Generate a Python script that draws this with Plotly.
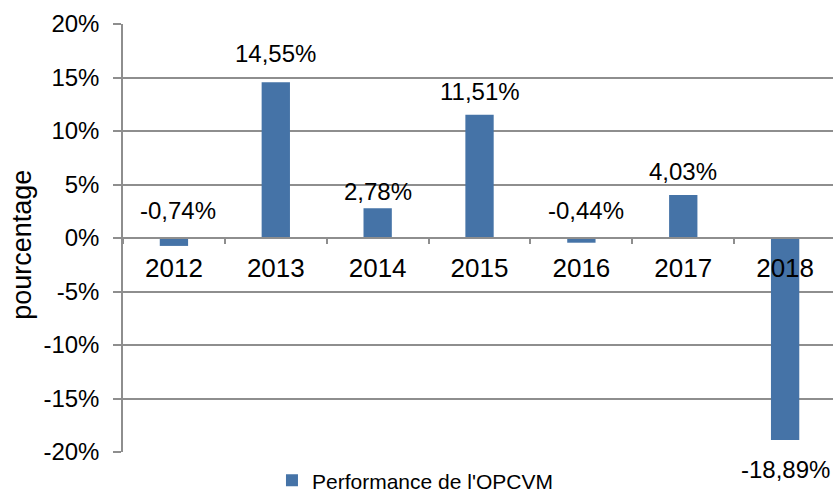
import plotly.graph_objects as go

years = ["2012", "2013", "2014", "2015", "2016", "2017", "2018"]
performance = [-0.74, 14.55, 2.78, 11.51, -0.44, 4.03, -18.89]
labels = ["-0,74%", "14,55%", "2,78%", "11,51%", "-0,44%", "4,03%", "-18,89%"]
y_ticks = [-20, -15, -10, -5, 0, 5, 10, 15, 20]
y_ticktext = ["-20%", "-15%", "-10%", "-5%", "0%", "5%", "10%", "15%", "20%"]
series_name = "Performance de l'OPCVM"

BAR = "#4573A7"
GRID = "#8E8E8E"
FONT = "Liberation Sans, Arial, sans-serif"

fig = go.Figure()
fig.add_trace(go.Bar(
    x=years, y=performance, name=series_name,
    marker=dict(color=BAR, line=dict(width=0)),
    width=0.278, showlegend=True,
))

# label placement tweaks (px): vertical offset of label centre from bar end / zero line
label_dy = [28, 29, 17, 23, 28, 23, -29]
label_dx = [4, 0, 0, 0, 5, 0, 0]
for i, (v, t) in enumerate(zip(performance, labels)):
    anchor_y = v if (v > 0 or v < -5) else 0
    fig.add_annotation(x=i, y=anchor_y, text=t, showarrow=False,
                       xanchor="center", yanchor="middle",
                       yshift=label_dy[i], xshift=label_dx[i],
                       font=dict(family=FONT, size=24, color="#000000"))

fig.add_annotation(xref="paper", yref="paper", x=-0.1423, y=0.484,
                   text="pourcentage", textangle=-90, showarrow=False,
                   xanchor="center", yanchor="middle",
                   font=dict(family=FONT, size=27, color="#000000"))

fig.update_layout(
    width=833, height=493,
    margin=dict(l=123, r=0, t=24, b=41, autoexpand=False),
    paper_bgcolor="white", plot_bgcolor="white",
    font=dict(family=FONT, size=24, color="#000000"),
    legend=dict(orientation="h", xref="container", yref="container",
                x=0.3265, y=0.025, xanchor="left", yanchor="middle",
                font=dict(family=FONT, size=21, color="#000000"),
                bgcolor="rgba(0,0,0,0)"),
    xaxis=dict(
        type="category", range=[-0.5, 6.47], automargin=False,
        anchor="free", position=0.5,
        showline=True, linecolor=GRID, linewidth=1.5,
        ticks="outside", tickson="boundaries", ticklen=5, tickcolor=GRID, tickwidth=1.5,
        showgrid=False, zeroline=False,
        tickfont=dict(family=FONT, size=26, color="#000000"),
        ticklabelstandoff=7,
    ),
    yaxis=dict(
        range=[-20, 20], tickvals=y_ticks, ticktext=y_ticktext, automargin=False,
        showgrid=True, gridcolor=GRID, gridwidth=1.5,
        showline=True, linecolor=GRID, linewidth=1.5,
        ticks="outside", ticklen=8, tickcolor=GRID, tickwidth=1.5,
        zeroline=False,
        tickfont=dict(family=FONT, size=24, color="#000000"),
        ticklabelstandoff=9,
    ),
)

fig.write_html(
    "out.html",
    config={"displayModeBar": False},
    post_script="document.body.style.margin='0';document.body.style.padding='0';",
)
